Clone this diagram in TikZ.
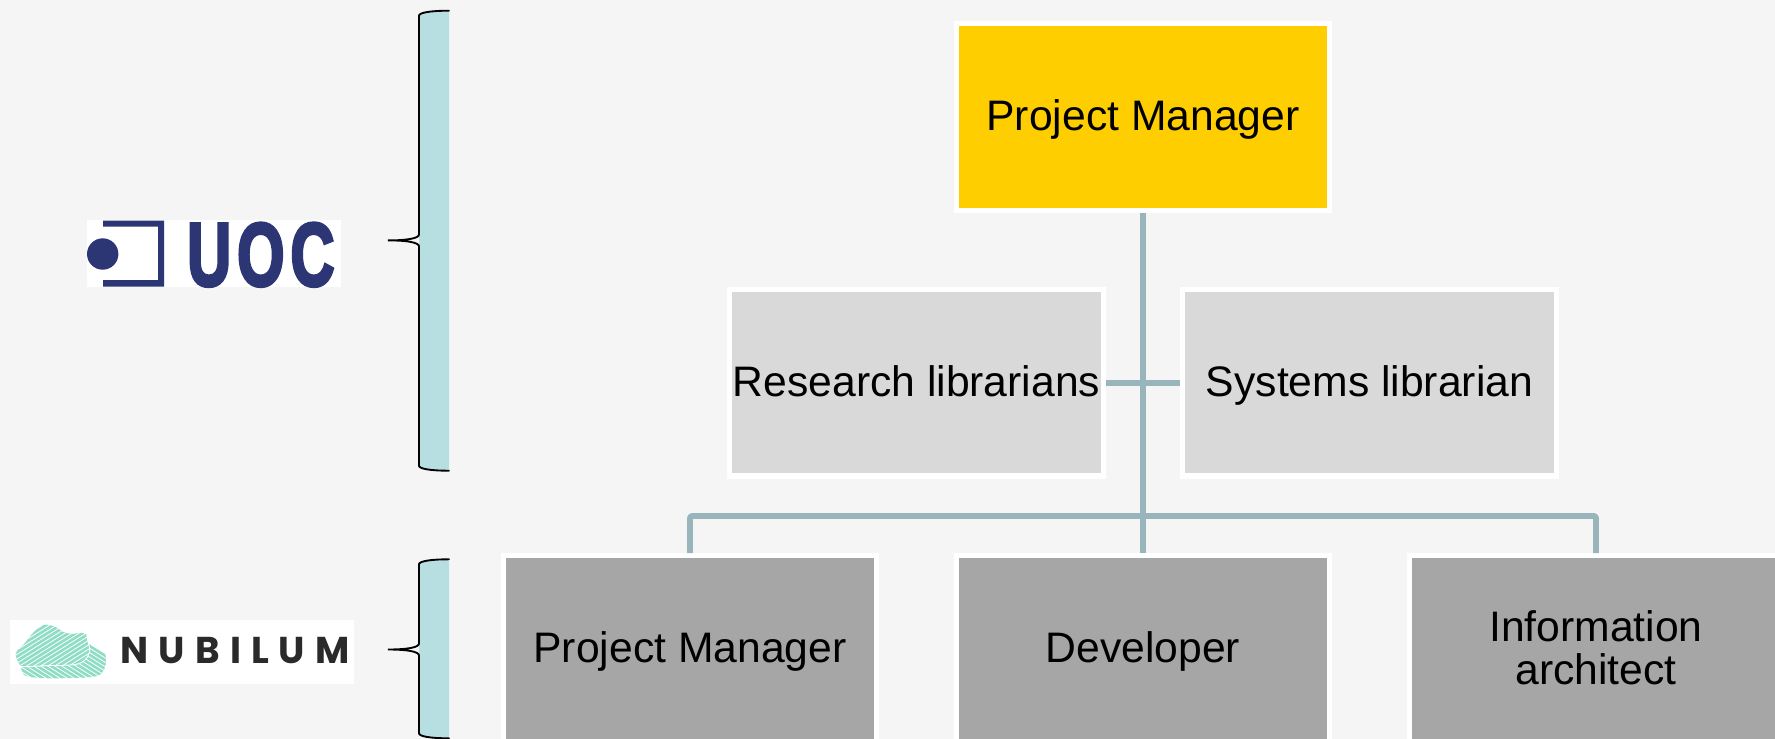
\documentclass[tikz,border=0pt]{standalone}
\usepackage{fontspec}
\setmainfont{Liberation Sans}
\newfontfamily\uocfont[FakeBold=4]{Liberation Sans Bold}
\newfontfamily\nubfont[LetterSpace=27]{Poppins Bold}
\definecolor{bgc}{HTML}{F5F5F5}
\definecolor{topc}{HTML}{FFCE00}
\definecolor{midc}{HTML}{D9D9D9}
\definecolor{lowc}{HTML}{A6A6A6}
\definecolor{linec}{HTML}{97B5BA}
\definecolor{bracefill}{HTML}{B7DEE1}
\definecolor{uocblue}{HTML}{2C3674}
\definecolor{mint}{HTML}{8FDDC5}
\definecolor{nubdark}{HTML}{2A2A2A}
\newcommand{\tstrut}{\vrule height 26.6pt depth 5.9pt width 0pt}
\newcommand{\bracket}[3]{% top y, tip y, bottom y
  \fill[bracefill] (449,#1) .. controls (430,#1) and (419,#1+2) .. (419,#1+5)
    -- (419,#3-5) .. controls (419,#3-2) and (430,#3) .. (449,#3) -- cycle;
  \draw[bracestroke] (449,#1) .. controls (430,#1) and (419,#1+2) .. (419,#1+5)
    -- (419,#2-6) .. controls (419,#2-2) and (407,#2) .. (388,#2)
    .. controls (407,#2) and (419,#2+2) .. (419,#2+6)
    -- (419,#3-5) .. controls (419,#3-2) and (430,#3) .. (449,#3);
}
\tikzset{
  orgbox/.style={rectangle,draw=white,line width=3.9pt,minimum width=280pt,minimum height=140pt,
    inner sep=0pt,align=center,text=black,font=\fontsize{32}{32.5}\selectfont},
  topbox/.style={orgbox,fill=topc},
  midbox/.style={orgbox,fill=midc},
  lowbox/.style={orgbox,fill=lowc},
  conn/.style={draw=linec,line width=4.3pt,line join=round},
  bracestroke/.style={draw=black,line width=1.4pt,line cap=round},
  logotext/.style={inner sep=0pt,anchor=base west},
}
\begin{document}
\begin{tikzpicture}[x=0.75pt,y=-0.75pt]
\useasboundingbox (0,0) rectangle (1775,739);
\clip (0,0) rectangle (1775,739);
\fill[bgc] (0,0) rectangle (1775,739);

% braces
\bracket{10.7}{240.4}{470.7}
\bracket{559.3}{649.5}{738.3}

% org chart
\node[topbox] (pm) at (1143,117) {Project Manager\tstrut};
\node[midbox] (res) at (916.5,382.7) {Research librarians\tstrut};
\node[midbox] (sys) at (1369.5,382.7) {Systems librarian\tstrut};
\node[lowbox] (npm) at (690,649) {Project Manager\tstrut};
\node[lowbox] (dev) at (1143,649) {Developer\tstrut};
\node[lowbox] (info) at (1596,649) {Information\tstrut\\architect\tstrut};
\coordinate (bus) at (1143,516);
\draw[conn] (pm) -- (dev);
\draw[conn] (res) -- (sys);
\draw[conn,rounded corners=1.5pt] (npm.north) |- (bus) -| (info.north);

% UOC logo
\fill[white] (87,220) rectangle (341,286.7);
\fill[uocblue] (102.7,254) circle (15.7);
\fill[uocblue] (103,220.7) -- (164,220.7) -- (164,286.7) -- (103,286.7) -- (103,280) -- (158,280) -- (158,226.7) -- (103,226.7) -- cycle;
\node[logotext,text=uocblue] (uoc) at (187,285.5) {\uocfont\fontsize{67}{67}\selectfont\scalebox{0.68}[1]{U\kern 0.10em O\kern 0.10em C}};

% NUBILUM logo
\fill[white] (10,620) rectangle (354,683.7);
\begin{scope}
  \clip plot[smooth cycle,tension=0.55] coordinates {(15.7,654) (25,643) (33,633) (43,625) (55,626.7) (63.3,632) (72,634) (83,633) (96,641) (105,653) (105,667) (97,676) (70,678) (40,678) (24,675) (21,667)};
  \foreach \i in {0,4.4,...,160} {
    \draw[mint,line width=2pt] (0,590+\i) -- (120,590+\i+75);
  }
  \begin{scope}
    \path[fill=white,draw=white,line width=1.5pt] plot[smooth cycle,tension=0.55] coordinates {(8,650) (30,618) (80,628) (87,640) (89,652) (84,660) (75,664) (50,665) (15,665)};
    \clip plot[smooth cycle,tension=0.55] coordinates {(8,650) (30,618) (80,628) (87,640) (89,652) (84,660) (75,664) (50,665) (15,665)};
    \foreach \i in {0,4.4,...,140} {
      \draw[mint,line width=2pt] (0,632+\i) -- (120,632+\i-75);
    }
  \end{scope}
\end{scope}
\node[logotext,text=nubdark] (nub) at (120.5,663.3) {\nubfont\fontsize{28}{28}\selectfont NUBILUM};
\end{tikzpicture}
\end{document}
